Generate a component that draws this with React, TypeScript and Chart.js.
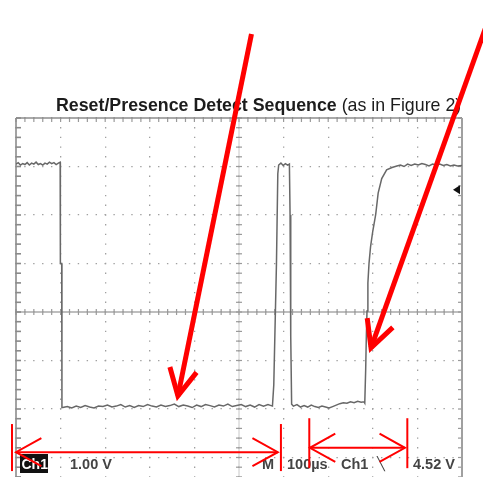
import React, { useEffect, useRef } from "react";
import { Chart, registerables } from "chart.js";

Chart.register(...registerables);

// Axis ranges (time in µs, voltage in V; 100 µs/div, 1.00 V/div)
const TIME_MIN = 0;
const TIME_MAX = 1000;
const TIME_DIV = 100;
const VOLT_MIN = -2;
const VOLT_MAX = 6;
const VOLT_DIV = 1;
const TRIGGER_LEVEL = 4.52;

// Trace segments [time µs, volts]
const highStart: [number, number][] = [
  [0, 5.05], [5, 5.08], [10, 5.03], [15, 5.06], [20, 5.04], [25, 5.08], [30, 5.03],
  [35, 5.07], [40, 5.05], [45, 5.09], [50, 5.04], [55, 5.06], [60, 5.03], [65, 5.07],
  [70, 5.05], [75, 5.09], [80, 5.06], [85, 5.08], [90, 5.04], [95, 5.07], [99, 5.09],
];
const fallEdge: [number, number][] = [
  [99.5, 3.0], [102.5, 3.0], [103, 0.03],
];
const lowReset: [number, number][] = [
  [105, 0.03], [115, 0.05], [125, 0.02], [135, 0.06], [145, 0.03], [155, 0.07], [165, 0.04],
  [175, 0.02], [185, 0.06], [195, 0.05], [205, 0.08], [215, 0.04], [225, 0.06], [235, 0.09],
  [245, 0.04], [255, 0.07], [265, 0.03], [275, 0.07], [285, 0.05], [295, 0.09], [305, 0.06],
  [315, 0.04], [325, 0.08], [335, 0.05], [345, 0.07], [355, 0.1], [365, 0.05], [375, 0.08],
  [385, 0.06], [395, 0.03], [405, 0.08], [415, 0.05], [425, 0.09], [435, 0.07], [445, 0.04],
  [455, 0.08], [465, 0.06], [475, 0.1], [485, 0.05], [495, 0.07], [505, 0.09], [515, 0.05],
  [525, 0.08], [535, 0.04], [545, 0.09], [555, 0.06], [565, 0.09], [575, 0.06],
];
const pulse: [number, number][] = [
  [576, 0.06], [578, 0.5], [584, 3.0], [587, 4.85], [589, 5.03], [594, 5.07], [599, 5.02],
  [604, 5.06], [609, 5.03], [613, 5.05], [614.5, 4.0], [616, 1.5], [618, 0.1],
];
const lowPresence: [number, number][] = [
  [622, 0.06], [630, 0.09], [638, 0.04], [646, 0.07], [654, 0.04], [662, 0.08], [670, 0.05],
  [678, 0.03], [686, 0.06], [694, 0.04], [702, 0.02], [710, 0.05], [718, 0.08], [726, 0.11],
  [734, 0.13], [742, 0.12], [750, 0.15], [758, 0.13], [766, 0.16], [774, 0.14], [780, 0.15],
];
const riseEdge: [number, number][] = [
  [782, 0.12], [784, 0.8], [785.5, 1.5], [787, 2.02], [789, 2.6], [791.5, 3.0], [795, 3.35],
  [800, 3.67], [806.5, 4.01], [812, 4.45], [820, 4.75], [831, 4.93], [843, 4.98], [854, 5.01],
];
const highEnd: [number, number][] = [
  [862, 5.03], [870, 5.0], [878, 5.05], [886, 5.02], [894, 5.05], [902, 5.03], [910, 5.06],
  [918, 5.04], [926, 5.01], [934, 5.05], [942, 5.03], [950, 5.05], [958, 5.02], [966, 5.04],
  [974, 5.01], [982, 5.03], [990, 5.01], [1000, 5.02],
];

// Text
const titleBold = "Reset/Presence Detect Sequence";
const titleRegular = "(as in Figure 2)";
const readoutChannel = "Ch1";
const readoutScale = "1.00 V";
const readoutMain = "M";
const readoutTime = "100µs";
const readoutTrigSrc = "Ch1";
const readoutSlope = "\u2572";
const readoutTrigLevel = "4.52 V";

// Red annotations, in data units (µs, V)
const pointerArrows: { from: [number, number]; to: [number, number] }[] = [
  { from: [528, 7.73], to: [363, 0.27] },
  { from: [1052, 7.84], to: [796, 1.26] },
];
const spanMarks: { start: number; end: number; barStart: number; barEnd: number; level: number; top: number; bottom: number }[] = [
  { start: 0, end: 587, barStart: -9, barEnd: 594, level: -0.89, top: -0.31, bottom: -1.28 },
  { start: 659, end: 872, barStart: 657.6, barEnd: 877.4, level: -0.8, top: -0.19, bottom: -1.22 },
];

const CANVAS_W = 483;
const CANVAS_H = 520;

function line(ctx: CanvasRenderingContext2D, x1: number, y1: number, x2: number, y2: number) {
  ctx.beginPath();
  ctx.moveTo(x1, y1);
  ctx.lineTo(x2, y2);
  ctx.stroke();
}

function arrowHead(ctx: CanvasRenderingContext2D, tipX: number, tipY: number, backX: number, backY: number, len: number, angDeg: number) {
  const dx = backX - tipX;
  const dy = backY - tipY;
  const d = Math.hypot(dx, dy) || 1;
  const ux = dx / d;
  const uy = dy / d;
  const a = (angDeg * Math.PI) / 180;
  const r = (s: number) => [ux * Math.cos(s * a) - uy * Math.sin(s * a), ux * Math.sin(s * a) + uy * Math.cos(s * a)];
  const [ax, ay] = r(1);
  const [bx, by] = r(-1);
  ctx.beginPath();
  ctx.moveTo(tipX + ax * len, tipY + ay * len);
  ctx.lineTo(tipX, tipY);
  ctx.lineTo(tipX + bx * len, tipY + by * len);
  ctx.stroke();
}

const scopePlugin = {
  id: "scopeDecor",
  beforeDatasetsDraw(chart: any) {
    const { ctx, chartArea: a, scales } = chart;
    const xs = scales.x;
    const ys = scales.y;
    const cx = xs.getPixelForValue((TIME_MIN + TIME_MAX) / 2);
    const cy = ys.getPixelForValue((VOLT_MIN + VOLT_MAX) / 2);
    ctx.save();
    // center crosshair
    ctx.strokeStyle = "#a9a9a9";
    ctx.lineWidth = 1.6;
    line(ctx, a.left, cy, a.right, cy);
    ctx.strokeStyle = "#c8c8c8";
    ctx.lineWidth = 1;
    line(ctx, cx, a.top, cx, a.bottom);
    // minor ticks
    ctx.strokeStyle = "#9a9a9a";
    ctx.lineWidth = 1.2;
    const nx = ((TIME_MAX - TIME_MIN) / TIME_DIV) * 5;
    for (let i = 0; i <= nx; i++) {
      const x = xs.getPixelForValue(TIME_MIN + (i * TIME_DIV) / 5);
      line(ctx, x, cy - 3, x, cy + 3);
      line(ctx, x, a.top, x, a.top + 4);
    }
    const ny = ((VOLT_MAX - VOLT_MIN) / VOLT_DIV) * 5;
    for (let j = 0; j <= ny; j++) {
      const y = ys.getPixelForValue(VOLT_MIN + (j * VOLT_DIV) / 5);
      line(ctx, cx - 3, y, cx + 3, y);
      ctx.strokeStyle = "#8a8a8a";
      ctx.lineWidth = 1.6;
      line(ctx, a.left, y, a.left + 5, y);
      ctx.strokeStyle = "#9a9a9a";
      ctx.lineWidth = 1.2;
      line(ctx, a.right - 4, y, a.right, y);
    }
    // frame
    ctx.strokeStyle = "#8c8c8c";
    ctx.lineWidth = 1.6;
    line(ctx, a.left, a.top, a.right, a.top);
    line(ctx, a.left, a.top, a.left, a.bottom);
    ctx.strokeStyle = "#a0a0a0";
    ctx.lineWidth = 2;
    line(ctx, a.right, a.top, a.right, a.bottom);
    // trigger level marker
    const ty = ys.getPixelForValue(TRIGGER_LEVEL);
    ctx.fillStyle = "#111";
    ctx.beginPath();
    ctx.moveTo(a.right - 9, ty);
    ctx.lineTo(a.right - 2, ty - 4.5);
    ctx.lineTo(a.right - 2, ty + 4.5);
    ctx.closePath();
    ctx.fill();
    ctx.restore();
  },
  afterDraw(chart: any) {
    const { ctx, scales } = chart;
    const xs = scales.x;
    const ys = scales.y;
    ctx.save();
    // title
    ctx.textBaseline = "alphabetic";
    ctx.textAlign = "left";
    ctx.fillStyle = "#1c1c1c";
    ctx.font = 'bold 17.8px "Liberation Sans", Arial, sans-serif';
    ctx.fillText(titleBold, 56, 110.5);
    const wb = ctx.measureText(titleBold + " ").width;
    ctx.font = '17.8px "Liberation Sans", Arial, sans-serif';
    ctx.fillText(titleRegular, 56 + wb, 110.5);

    // readout
    ctx.fillStyle = "#111";
    ctx.fillRect(20, 454, 28, 19);
    ctx.fillStyle = "#fff";
    ctx.font = 'bold 14px "Liberation Sans", Arial, sans-serif';
    ctx.fillText(readoutChannel, 21.5, 469);
    ctx.fillStyle = "#444";
    ctx.font = 'bold 14.5px "Liberation Sans", Arial, sans-serif';
    ctx.fillText(readoutScale, 70, 469);
    ctx.fillText(readoutMain, 262, 469);
    ctx.fillText(readoutTime, 287, 469);
    ctx.fillText(readoutTrigSrc, 341, 469);
    ctx.font = '13px "DejaVu Sans", sans-serif';
    ctx.fillText(readoutSlope, 377, 468);
    ctx.font = 'bold 14.5px "Liberation Sans", Arial, sans-serif';
    ctx.fillText(readoutTrigLevel, 413, 469);

    // red annotations
    ctx.strokeStyle = "rgb(255,0,0)";
    ctx.lineJoin = "miter";
    ctx.lineCap = "butt";
    for (const s of spanMarks) {
      ctx.lineWidth = 2;
      const xb1 = xs.getPixelForValue(s.barStart);
      const xb2 = xs.getPixelForValue(s.barEnd);
      const yt = ys.getPixelForValue(s.top);
      const yb = ys.getPixelForValue(s.bottom);
      line(ctx, xb1, yt, xb1, yb);
      line(ctx, xb2, yt, xb2, yb);
      const x1 = xs.getPixelForValue(s.start);
      const x2 = xs.getPixelForValue(s.end);
      const yl = ys.getPixelForValue(s.level);
      line(ctx, x1, yl, x2, yl);
      arrowHead(ctx, x1, yl, x2, yl, 29, 29);
      arrowHead(ctx, x2, yl, x1, yl, 29, 29);
    }
    for (const p of pointerArrows) {
      ctx.lineWidth = 5;
      const fx = xs.getPixelForValue(p.from[0]);
      const fy = ys.getPixelForValue(p.from[1]);
      const tx = xs.getPixelForValue(p.to[0]);
      const ty = ys.getPixelForValue(p.to[1]);
      line(ctx, fx, fy, tx, ty);
      arrowHead(ctx, tx, ty, fx, fy, 30, 27);
    }
    ctx.restore();
  },
};

export default function App() {
  const canvasRef = useRef<HTMLCanvasElement | null>(null);

  useEffect(() => {
    const canvas = canvasRef.current;
    if (!canvas) return;
    const trace = [
      ...highStart, ...fallEdge, ...lowReset, ...pulse, ...lowPresence, ...riseEdge, ...highEnd,
    ].map(([x, y]) => ({ x, y }));

    const chart = new Chart(canvas, {
      type: "line",
      data: {
        datasets: [
          {
            data: trace,
            borderColor: "#686868",
            borderWidth: 1.5,
            pointRadius: 0,
            tension: 0,
          },
        ],
      },
      options: {
        responsive: false,
        animation: false,
        devicePixelRatio: 1,
        layout: { padding: { left: 16, top: 118, right: 21, bottom: 14 } },
        plugins: {
          legend: { display: false },
          tooltip: { enabled: false },
          title: { display: false },
        },
        scales: {
          x: {
            type: "linear",
            min: TIME_MIN,
            max: TIME_MAX,
            ticks: { display: false, stepSize: TIME_DIV },
            grid: { color: "#a0a0a0", lineWidth: 1.3, drawTicks: false },
            border: { display: false, dash: [1.4, 8.3], dashOffset: 0.7 },
          },
          y: {
            type: "linear",
            min: VOLT_MIN,
            max: VOLT_MAX,
            ticks: { display: false, stepSize: VOLT_DIV },
            grid: { color: "#a0a0a0", lineWidth: 1.3, drawTicks: false },
            border: { display: false, dash: [1.4, 7.52], dashOffset: 0.7 },
          },
        },
      },
      plugins: [scopePlugin],
    } as any);

    return () => chart.destroy();
  }, []);

  return (
    <div style={{ position: "fixed", left: 0, top: 0, width: CANVAS_W, height: CANVAS_H, background: "#fff" }}>
      <canvas ref={canvasRef} width={CANVAS_W} height={CANVAS_H} style={{ display: "block" }} />
    </div>
  );
}
